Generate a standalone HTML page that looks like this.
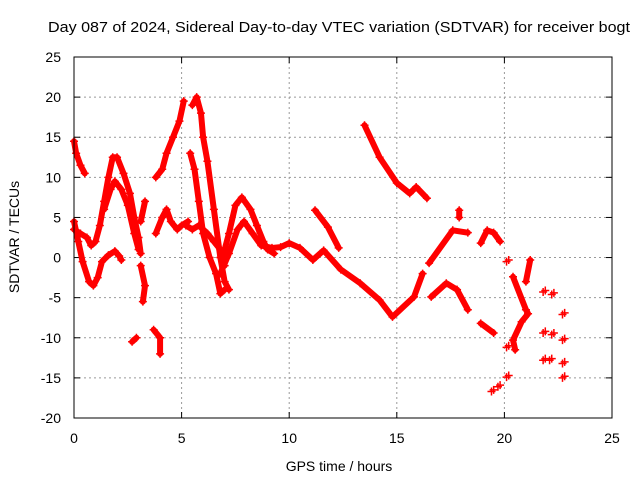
<!DOCTYPE html>
<html><head><meta charset="utf-8"><style>
body{margin:0;background:#fff;}
svg text{font-family:"Liberation Sans",sans-serif;font-size:14px;fill:#000;}
</style></head><body>
<svg id="chart" width="640" height="480">
<text x="48" y="32" textLength="582" lengthAdjust="spacingAndGlyphs" style="font-size:15px">Day 087 of 2024, Sidereal Day-to-day VTEC variation (SDTVAR) for receiver bogt</text>
<g id="grid"></g>
<g id="ticks"></g>
<g id="marks"></g>
<rect x="74" y="57" width="538" height="361" fill="none" stroke="#000" stroke-width="1"/>
<text x="339" y="471" text-anchor="middle">GPS time / hours</text>
<text x="0" y="0" text-anchor="middle" transform="translate(19,237) rotate(-90)">SDTVAR / TECUs</text>
</svg>
<script>
const xTicks=[0,5,10,15,20,25];
const yTicks=[-20,-15,-10,-5,0,5,10,15,20,25];
const tracks=[
[[0,14.5],[0.1,13],[0.3,11.5],[0.5,10.5]],
[[0,4.5],[0.2,2],[0.4,-0.5],[0.7,-3],[0.9,-3.5],[1.1,-2.5],[1.3,-0.5],[1.6,0.3],[1.9,0.8],[2.1,0.2],[2.2,-0.3]],
[[0,3.5],[0.3,3],[0.6,2.5],[0.8,1.5],[1.0,2],[1.2,4],[1.4,7],[1.6,10],[1.8,12.5],[2.0,12.5],[2.3,10.5],[2.6,8],[2.8,5],[3.0,2.5],[3.1,0.5]],
[[1.4,6],[1.7,8.5],[1.9,9.5],[2.2,8.5],[2.5,6.5],[2.8,3],[3.0,1]],
[[2.7,-10.5],[2.9,-10]],
[[3.1,4.5],[3.3,7]],
[[3.1,-1],[3.3,-3.5],[3.2,-5.5]],
[[3.7,-9],[4.0,-10],[4.0,-12]],
[[3.8,3],[4.1,5],[4.3,6],[4.5,4.5],[4.8,3.5],[5.0,4],[5.3,4.5]],
[[3.8,10],[4.1,11],[4.3,13],[4.6,15],[4.9,17],[5.1,19.5]],
[[5.5,19],[5.7,20],[5.9,18],[6.0,15],[6.2,12],[6.5,6],[6.8,0],[7.0,-3],[7.2,-4]],
[[5.4,13],[5.6,11],[5.8,7],[6.0,3],[6.3,0],[6.6,-2],[6.8,-4.5],[7.0,-4]],
[[5.2,4],[5.5,3.5],[5.8,4],[6.2,3],[6.5,2],[6.8,1],[7.0,-1]],
[[6.9,0],[7.2,3],[7.5,6.5],[7.8,7.5],[8.2,6],[8.5,4],[8.8,2],[9.0,1],[9.3,0.5]],
[[6.8,-2],[7.2,0.5],[7.6,3.5],[7.9,4.5],[8.3,3],[8.7,1.5],[9.2,1.2],[9.6,1.3],[10,1.8],[10.5,1.2],[11.1,-0.3],[11.6,0.9],[12.4,-1.5],[13.3,-3.2],[14.2,-5.3],[14.8,-7.4],[15.8,-4.9],[16.2,-2.0]],
[[16.6,-4.9],[17.3,-3.2],[17.8,-4],[18.3,-6.5]],
[[16.5,-0.7],[17.6,3.4],[18.3,3.1]],
[[18.9,1.8],[19.2,3.4],[19.5,3.1],[19.8,2]],
[[18.9,-8.2],[19.5,-9.4]],
[[13.5,16.5],[14.2,12.5],[15,9.3],[15.6,8],[15.9,8.8],[16.4,7.4]],
[[11.2,5.9],[11.8,3.8],[12.3,1.2]],
[[17.9,5.9],[17.9,5.0]],
[[20.4,-2.4],[21,-6.5],[21.1,-7],[20.8,-8],[20.4,-10.3],[20.5,-11.5]],
[[21.2,-0.3],[21.0,-3]]
];
const scatter=[[20.1,-11.2],[20.1,-14.9],[19.7,-16.1],[19.4,-16.7],[20.1,-0.5],[21.8,-4.3],[22.2,-4.6],[22.7,-7.1],[21.8,-9.4],[22.2,-9.6],[22.7,-10.3],[21.8,-12.8],[22.1,-12.8],[22.7,-13.2],[22.7,-15]];
const X0=74,X1=612,Y0=418,Y1=57;
const sx=t=>X0+(t-0)/25*(X1-X0);
const sy=v=>Y0-(v+20)/45*(Y0-Y1);
const NS="http://www.w3.org/2000/svg";
const grid=document.getElementById('grid'),ticks=document.getElementById('ticks'),marks=document.getElementById('marks');
function mk(tag,attrs,parent){const e=document.createElementNS(NS,tag);for(const k in attrs)e.setAttribute(k,attrs[k]);parent.appendChild(e);return e;}
xTicks.forEach(t=>{
 const x=sx(t);
 if(t>0&&t<25){const g=mk('line',{x1:x,x2:x,y1:Y1,y2:Y0,stroke:'#999','stroke-dasharray':'2,3'},grid);
 
 }
 mk('line',{x1:x,x2:x,y1:Y0,y2:Y0-6,stroke:'#000'},ticks);
 mk('line',{x1:x,x2:x,y1:Y1,y2:Y1+6,stroke:'#000'},ticks);
 const tx=mk('text',{x:x,y:443,'text-anchor':'middle'},ticks);tx.textContent=t;
 
 
});
yTicks.forEach(v=>{
 const y=sy(v);
 if(v>-20&&v<25){const g=mk('line',{x1:X0,x2:X1,y1:y,y2:y,stroke:'#999','stroke-dasharray':'2,3'},grid);
 
 }
 mk('line',{x1:X0,x2:X0+6,y1:y,y2:y,stroke:'#000'},ticks);
 mk('line',{x1:X1,x2:X1-6,y1:y,y2:y,stroke:'#000'},ticks);
 const tx=mk('text',{x:61,y:y+5,'text-anchor':'end'},ticks);tx.textContent=v;
 
 
});
function plus(t,v,p){const x=sx(t),y=sy(v);
 const e=mk('path',{d:`M${x-4},${y}h8M${x},${y-4}v8`,stroke:'#f00','stroke-width':1.5},p);
 
 }
tracks.forEach(tr=>{
 const pl=mk('polyline',{points:tr.map(p=>sx(p[0])+','+sy(p[1])).join(' '),fill:'none',stroke:'#f00','stroke-width':6,'stroke-linejoin':'round','stroke-linecap':'round'},marks);
 
 
 tr.forEach(p=>plus(p[0],p[1],marks));
});
scatter.forEach(p=>{plus(p[0],p[1],marks);plus(p[0]+0.1,p[1]+0.2,marks);});
</script>
</body></html>
